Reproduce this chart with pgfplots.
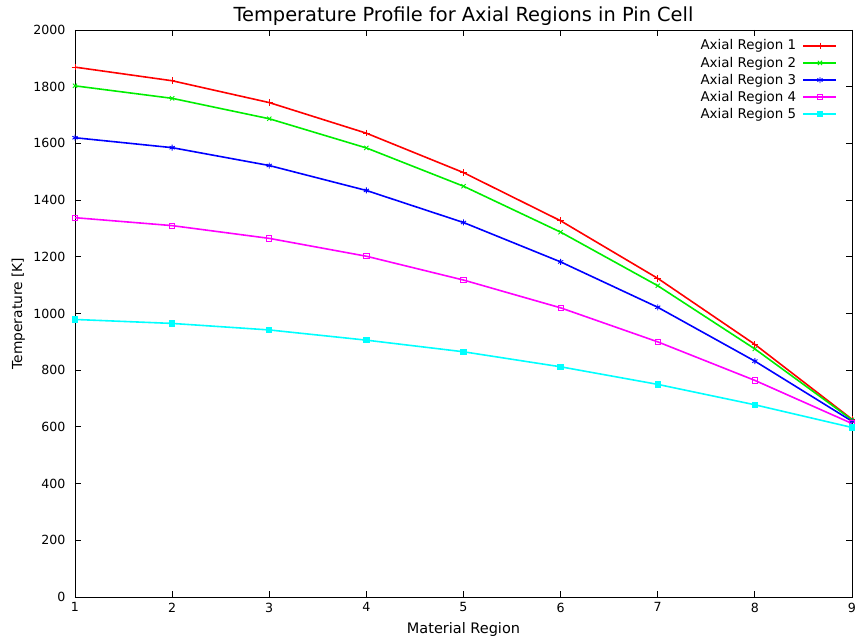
\documentclass[border=0pt]{standalone}
\usepackage{fontspec}
\setmainfont{DejaVu Sans}
\usepackage{pgfplots}
\pgfplotsset{compat=1.18}
\definecolor{gpred}{RGB}{255,0,0}
\definecolor{gpgreen}{RGB}{0,238,0}
\definecolor{gpblue}{RGB}{0,0,255}
\definecolor{gpmagenta}{RGB}{255,0,255}
\definecolor{gpcyan}{RGB}{0,255,255}
\begin{document}
\fontsize{13.4}{16}\selectfont
\begin{tikzpicture}
\useasboundingbox (-75pt,-41pt) rectangle (784pt,597pt);
\begin{axis}[
  at={(0,0)}, anchor=south west,
  scale only axis, width=777pt, height=567pt,
  xmin=1, xmax=9, ymin=0, ymax=2000,
  xtick={1,2,...,9}, ytick={0,200,...,2000},
  tick align=inside, major tick length=6pt,
  axis line style={line width=0.9pt},
  every tick/.style={black, line width=0.9pt},
  /pgf/number format/assume math mode=true,
  /pgf/number format/1000 sep={},
  tick label style={font=\fontsize{12.6}{15}\selectfont},
  yticklabel style={xshift=-5pt},
  xticklabel style={yshift=-1pt},
  title={Temperature Profile for Axial Regions in Pin Cell},
  title style={at={(axis description cs:0.5,1.004)}, anchor=base, font=\fontsize{19.4}{22}\selectfont},
  xlabel={Material Region},
  xlabel style={at={(axis description cs:0.5,-0.0635)}, anchor=base, font=\fontsize{14.5}{17}\selectfont},
  ylabel={Temperature [K]},
  ylabel style={at={(axis description cs:-0.0682,0.5)}, anchor=base, font=\fontsize{13.8}{17}\selectfont},
  legend plot pos=right,
  legend cell align=right,
  legend style={at={(axis description cs:0.9813,0.9875)}, anchor=north east, draw=none, fill=none, inner sep=0pt,
    font=\fontsize{13.4}{16}\selectfont, nodes={inner sep=2.45pt}, column sep=4pt},
  legend image code/.code={\draw[mark repeat=2,mark phase=2] plot coordinates {(0pt,0pt) (16.5pt,0pt) (33pt,0pt)};},
  every axis plot/.append style={line width=1.6pt, mark options={solid, line width=0.9pt}},
]
\addplot[color=gpred, mark=+, mark size=3.3pt] coordinates {(1,1869) (2,1821) (3,1744) (4,1636) (5,1497) (6,1327) (7,1124) (8,891) (9,627)};
\addlegendentry{Axial Region 1}
\addplot[color=gpgreen, mark=x, mark size=3pt] coordinates {(1,1803) (2,1759) (3,1687) (4,1584) (5,1449) (6,1287) (7,1098) (8,875) (9,625)};
\addlegendentry{Axial Region 2}
\addplot[color=gpblue, mark=asterisk, mark size=3pt] coordinates {(1,1620) (2,1585) (3,1522) (4,1434) (5,1321) (6,1182) (7,1022) (8,832) (9,620)};
\addlegendentry{Axial Region 3}
\addplot[color=gpmagenta, mark=square, mark size=2.6pt] coordinates {(1,1338) (2,1310) (3,1265) (4,1202) (5,1118) (6,1020) (7,900) (8,764) (9,612)};
\addlegendentry{Axial Region 4}
\addplot[color=gpcyan, mark=square*, mark size=2.7pt] coordinates {(1,979) (2,965) (3,942) (4,906) (5,865) (6,812) (7,750) (8,678) (9,598)};
\addlegendentry{Axial Region 5}
\end{axis}
\end{tikzpicture}
\end{document}
